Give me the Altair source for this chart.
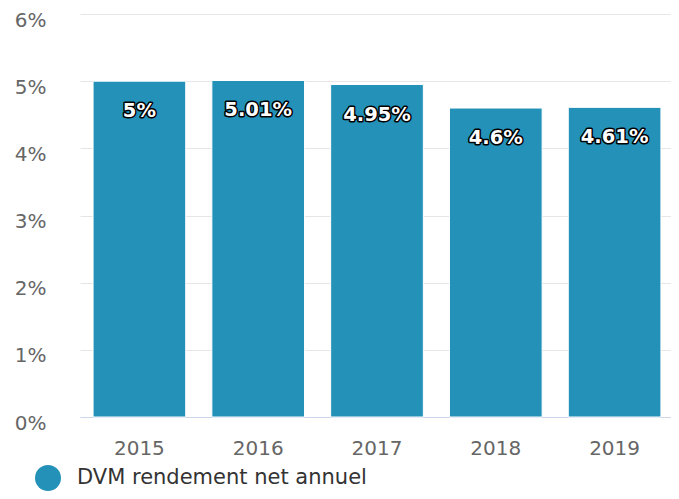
import altair as alt
import pandas as pd

years = ["2015", "2016", "2017", "2018", "2019"]
values = [5.0, 5.01, 4.95, 4.6, 4.61]
labels = ["5%", "5.01%", "4.95%", "4.6%", "4.61%"]
series = "DVM rendement net annuel"
y_ticks = [0, 1, 2, 3, 4, 5, 6]

df = pd.DataFrame({"year": years, "value": values, "label": labels, "series": [series] * len(years)})

FONT = "DejaVu Sans"
COLOR = "#2491b9"

base = alt.Chart(df)

x_enc = alt.X("year:N", title=None,
              scale=alt.Scale(paddingInner=0.22, paddingOuter=0.11, range=[0, 594]),
              axis=alt.Axis(labelAngle=0, ticks=False, domainColor="#ccd6eb", domainWidth=1,
                            labelPadding=21, labelFontSize=20, labelColor="#666666", labelFont=FONT))
y_enc = alt.Y("value:Q", title=None, scale=alt.Scale(domain=[0, 6], nice=False),
              axis=alt.Axis(values=y_ticks, labelExpr="datum.value + '%'", domain=False, ticks=False,
                            gridColor="#e6e6e6", gridWidth=1, labelPadding=34, labelFontSize=20,
                            labelColor="#666666", labelFont=FONT, labelOffset=6))

bars = base.mark_bar(stroke="white", strokeWidth=1).encode(
    x=x_enc, y=y_enc,
    color=alt.Color("series:N", scale=alt.Scale(range=[COLOR]),
                    legend=alt.Legend(title=None, orient="none", legendX=-45, legendY=451,
                                      symbolType="circle", symbolSize=676, symbolStrokeWidth=0,
                                      symbolOpacity=1, labelFontSize=21, labelColor="#333333",
                                      labelFont=FONT, labelOffset=16, padding=0, labelLimit=500)),
)

txt_kw = dict(fontSize=19.5, fontWeight="bold", font=FONT, baseline="middle", align="center", dy=30)
outline = base.mark_text(stroke="black", strokeWidth=3, strokeJoin="round", fill="black", **txt_kw).encode(
    x="year:N", y="value:Q", text="label:N")
fill = base.mark_text(fill="white", **txt_kw).encode(x="year:N", y="value:Q", text="label:N")

chart = alt.layer(bars, outline, fill).properties(
    width=591, height=403, autosize="none",
    padding={"left": 72, "top": 6, "right": 0, "bottom": 74},
).configure_view(stroke=None)

chart.save("out.html", embed_options={"renderer": "svg", "actions": False})
